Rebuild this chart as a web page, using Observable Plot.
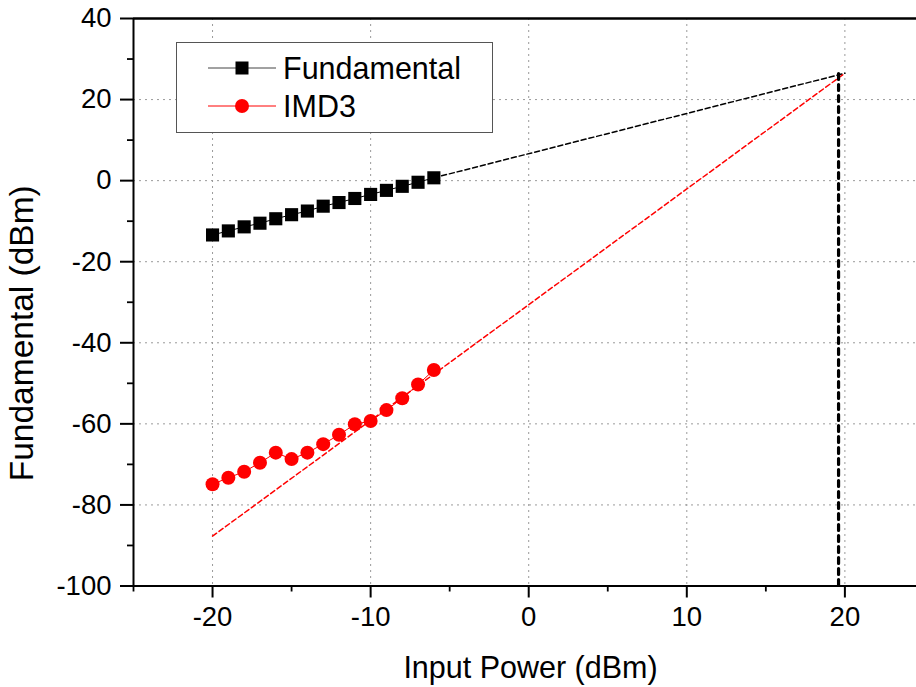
<!DOCTYPE html>
<html>
<head>
<meta charset="utf-8">
<script src="https://cdn.jsdelivr.net/npm/d3@7"></script>
<script src="https://cdn.jsdelivr.net/npm/@observablehq/plot@0.6"></script>
<style>
  html, body { margin: 0; padding: 0; background: #fff; }
  #wrap { position: relative; width: 916px; height: 687px; font-family: "Liberation Sans", Arial, sans-serif; }
  #legend { position: absolute; left: 176px; top: 42px; width: 315px; height: 89px; border: 1px solid #555; background: #fff; box-sizing: content-box; }
  .row { position: absolute; left: 0; height: 36px; display: flex; align-items: center; }
  .row span { font-size: 30.5px; color: #000; margin-left: 6px; line-height: 1; }
</style>
</head>
<body>
<div id="wrap"></div>
<script>
// ---- data ----
const inputPower = [-20, -19, -18, -17, -16, -15, -14, -13, -12, -11, -10, -9, -8, -7, -6];
const fundamental = [-13.4, -12.4, -11.4, -10.5, -9.4, -8.4, -7.5, -6.3, -5.4, -4.4, -3.4, -2.4, -1.4, -0.4, 0.7];
const imd3 = [-74.9, -73.3, -71.8, -69.6, -67.1, -68.7, -67.1, -65.0, -62.7, -60.1, -59.3, -56.6, -53.7, -50.3, -46.7];
// extrapolated (dashed) fits
const fundFitX = [-6, 20];
const fundFitY = [0.7, 26.5];
const imdFitX = [-20, 20];
const imdFitY = [-87.7, 26.5];
// IP3 marker line
const ip3X = [19.6];
const ip3Y = [26.3];
// axes
const xMajor = [-20, -10, 0, 10, 20];
const xMinor = [-25, -15, -5, 5, 15];
const yMajor = [40, 20, 0, -20, -40, -60, -80, -100];
const yMinor = [30, 10, -10, -30, -50, -70, -90];
const xDomain = [-25, 24.53];
const yDomain = [-100, 40];

const fundData = inputPower.map((x, i) => ({x, y: fundamental[i]}));
const imdData = inputPower.map((x, i) => ({x, y: imd3[i]}));
const fundFit = fundFitX.map((x, i) => ({x, y: fundFitY[i]}));
const imdFit = imdFitX.map((x, i) => ({x, y: imdFitY[i]}));

const fmt = d => String(d);
const grid = {stroke: "#9a9a9a", strokeOpacity: 1, strokeWidth: 1, strokeDasharray: "2,4"};

const chart = Plot.plot({
  width: 916,
  height: 687,
  marginLeft: 133,
  marginRight: 0,
  marginTop: 18,
  marginBottom: 101.5,
  style: {fontFamily: "'Liberation Sans', Arial, sans-serif", background: "#fff", color: "#000"},
  x: {domain: xDomain},
  y: {domain: yDomain},
  marks: [
    Plot.gridX(xMajor, grid),
    Plot.gridY(yMajor.filter(v => v > -100 && v < 40), grid),
    Plot.axisX(xMajor, {tickSize: 12, tickPadding: 8, fontSize: 27.5, tickFormat: fmt, strokeWidth: 2, label: null}),
    Plot.axisX(xMinor, {tickSize: 6, tickFormat: null, text: null, strokeWidth: 1.8, label: null}),
    Plot.axisY(yMajor, {tickSize: 13, tickPadding: 9, fontSize: 27.5, tickFormat: fmt, strokeWidth: 2, label: null}),
    Plot.axisY(yMinor, {tickSize: 6, tickFormat: null, text: null, strokeWidth: 1.8, label: null}),
    Plot.ruleX([xDomain[0]], {stroke: "#000", strokeWidth: 2}),
    Plot.ruleY([yDomain[0]], {stroke: "#000", strokeWidth: 2}),
    Plot.ruleY([yDomain[1]], {stroke: "#000", strokeWidth: 2.5}),
    // extrapolations
    Plot.line(fundFit, {x: "x", y: "y", stroke: "#000", strokeWidth: 1.5, strokeDasharray: "5,3"}),
    Plot.line(imdFit, {x: "x", y: "y", stroke: "#ff0000", strokeWidth: 1.5, strokeDasharray: "5,3"}),
    Plot.ruleX(ip3X, {x: d => d, y1: yDomain[0], y2: ip3Y[0], stroke: "#000", strokeWidth: 3.2, strokeDasharray: "6,5", strokeLinecap: "round"}),
    // measured data
    Plot.line(fundData, {x: "x", y: "y", stroke: "#000", strokeWidth: 1}),
    Plot.dot(fundData, {x: "x", y: "y", symbol: "square", r: 7.4, fill: "#000", stroke: "none"}),
    Plot.line(imdData, {x: "x", y: "y", stroke: "#ff0000", strokeWidth: 1}),
    Plot.dot(imdData, {x: "x", y: "y", symbol: "circle", r: 7, fill: "#ff0000", stroke: "none"}),
    // axis titles
    Plot.text(["Input Power (dBm)"], {text: d => d, frameAnchor: "bottom", textAnchor: "middle", lineAnchor: "middle", dx: 5.5, dy: 82, fontSize: 30.5, fill: "#000"}),
    Plot.text(["Fundamental (dBm)"], {text: d => d, frameAnchor: "left", textAnchor: "middle", lineAnchor: "middle", rotate: -90, dx: -111, dy: 31, fontSize: 33.5, fill: "#000"})
  ]
});

const wrap = document.getElementById("wrap");
wrap.appendChild(chart);

// legend
const legend = document.createElement("div");
legend.id = "legend";
const entries = [
  {name: "Fundamental", color: "#000", line: "#444", symbol: "square"},
  {name: "IMD3", color: "#ff0000", line: "#ff0000", symbol: "circle"}
];
entries.forEach((e, i) => {
  const row = document.createElement("div");
  row.className = "row";
  row.style.top = (i === 0 ? 7 : 45) + "px";
  const ns = "http://www.w3.org/2000/svg";
  const svg = document.createElementNS(ns, "svg");
  svg.setAttribute("width", "100");
  svg.setAttribute("height", "36");
  const ln = document.createElementNS(ns, "line");
  ln.setAttribute("x1", 31); ln.setAttribute("x2", 99);
  ln.setAttribute("y1", 18); ln.setAttribute("y2", 18);
  ln.setAttribute("stroke", e.line); ln.setAttribute("stroke-width", 1);
  svg.appendChild(ln);
  if (e.symbol === "square") {
    const r = document.createElementNS(ns, "rect");
    r.setAttribute("x", 65 - 6.5); r.setAttribute("y", 18 - 6.5);
    r.setAttribute("width", 13); r.setAttribute("height", 13);
    r.setAttribute("fill", e.color);
    svg.appendChild(r);
  } else {
    const c = document.createElementNS(ns, "circle");
    c.setAttribute("cx", 65); c.setAttribute("cy", 18); c.setAttribute("r", 7);
    c.setAttribute("fill", e.color);
    svg.appendChild(c);
  }
  row.appendChild(svg);
  const sp = document.createElement("span");
  sp.textContent = e.name;
  row.appendChild(sp);
  legend.appendChild(row);
});
wrap.appendChild(legend);
</script>
</body>
</html>
